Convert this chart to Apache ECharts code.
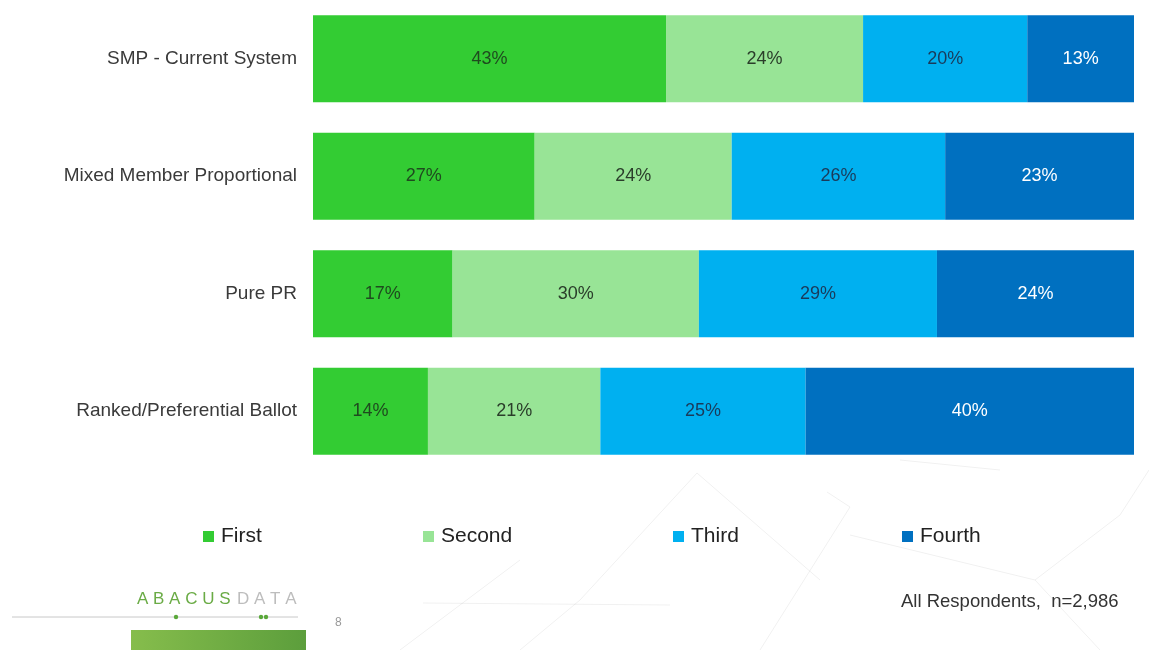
<!DOCTYPE html>
<html>
<head>
<meta charset="utf-8">
<script src="https://cdn.jsdelivr.net/npm/echarts@6/dist/echarts.min.js"></script>
<style>
html,body{margin:0;padding:0;background:#fff;}
#chart{width:1149px;height:650px;}
</style>
</head>
<body>
<div id="chart"></div>
<script>
const categories = ['SMP - Current System', 'Mixed Member Proportional', 'Pure PR', 'Ranked/Preferential Ballot'];
const seriesNames = ['First', 'Second', 'Third', 'Fourth'];
const first  = [43, 27, 17, 14];
const second = [24, 24, 30, 21];
const third  = [20, 26, 29, 25];
const fourth = [13, 23, 24, 40];
const seriesValues = [first, second, third, fourth];
const colors = ['#33cc33', '#98e496', '#00b0f0', '#0070c0'];
const labelColors = ['#1f4a1f', '#2a3d2a', '#1a3a5a', '#ffffff'];
const legendLeft = [198, 418, 668, 897];

const font = '"Liberation Sans", Arial, sans-serif';

const chart = echarts.init(document.getElementById('chart'));

const bgLines = [
  [[697,473],[580,600]], [[697,473],[820,580]], [[827,492],[850,507]],
  [[850,507],[760,650]], [[423,603],[670,605]], [[580,600],[520,650]],
  [[1035,580],[1120,515]], [[1120,515],[1149,470]], [[1035,580],[1100,650]],
  [[850,535],[1035,580]], [[400,650],[520,560]], [[900,460],[1000,470]]
];

const graphics = bgLines.map(l => ({
  type: 'line', silent: true, z: -10,
  shape: {x1: l[0][0], y1: l[0][1], x2: l[1][0], y2: l[1][1]},
  style: {stroke: 'rgba(0,0,0,0.06)', lineWidth: 1}
}));

graphics.push(
  {type: 'text', left: 901, top: 592, style: {text: 'All Respondents,  n=2,986', font: '18.5px ' + font, fill: '#333'}},
  {type: 'text', left: 137, top: 591, style: {text: 'A B A C U S', font: '17px ' + font, fill: '#6aab45'}},
  {type: 'text', left: 237, top: 591, style: {text: 'D A T A', font: '17px ' + font, fill: '#bdbdbd'}},
  {type: 'line', shape: {x1: 12, y1: 617, x2: 298, y2: 617}, style: {stroke: '#c8c8c8', lineWidth: 1}},
  {type: 'circle', shape: {cx: 176, cy: 617, r: 2.2}, style: {fill: '#5aa83a'}},
  {type: 'circle', shape: {cx: 261, cy: 617, r: 2.2}, style: {fill: '#5aa83a'}},
  {type: 'circle', shape: {cx: 266, cy: 617, r: 2.2}, style: {fill: '#5aa83a'}},
  {type: 'rect', shape: {x: 131, y: 630, width: 175, height: 20},
   style: {fill: new echarts.graphic.LinearGradient(0, 0, 1, 0, [{offset: 0, color: '#86bd4c'}, {offset: 1, color: '#5c9e3c'}])}},
  {type: 'text', left: 335, top: 617, style: {text: '8', font: '12px ' + font, fill: '#999'}}
);

const option = {
  backgroundColor: '#fff',
  animation: false,
  grid: {left: 313, right: 15, top: -1, height: 471},
  xAxis: {type: 'value', min: 0, max: 100, show: false},
  yAxis: {
    type: 'category', data: categories, inverse: true,
    axisLine: {show: false}, axisTick: {show: false},
    axisLabel: {fontSize: 19, fontFamily: font, color: '#3a3a3a', margin: 16}
  },
  legend: seriesNames.map((n, i) => ({
    data: [n], left: legendLeft[i], top: 521, itemWidth: 11, itemHeight: 11,
    icon: 'rect', selectedMode: false,
    textStyle: {fontSize: 21, fontFamily: font, color: '#222', padding: [0, 0, 0, 2]}
  })),
  series: seriesNames.map((n, i) => ({
    name: n, type: 'bar', stack: 'total', barWidth: 87,
    data: seriesValues[i],
    itemStyle: {color: colors[i]},
    label: {show: true, position: 'inside', formatter: '{c}%', fontSize: 18, fontFamily: font, color: labelColors[i]}
  })),
  graphic: graphics
};

chart.setOption(option);
</script>
</body>
</html>
